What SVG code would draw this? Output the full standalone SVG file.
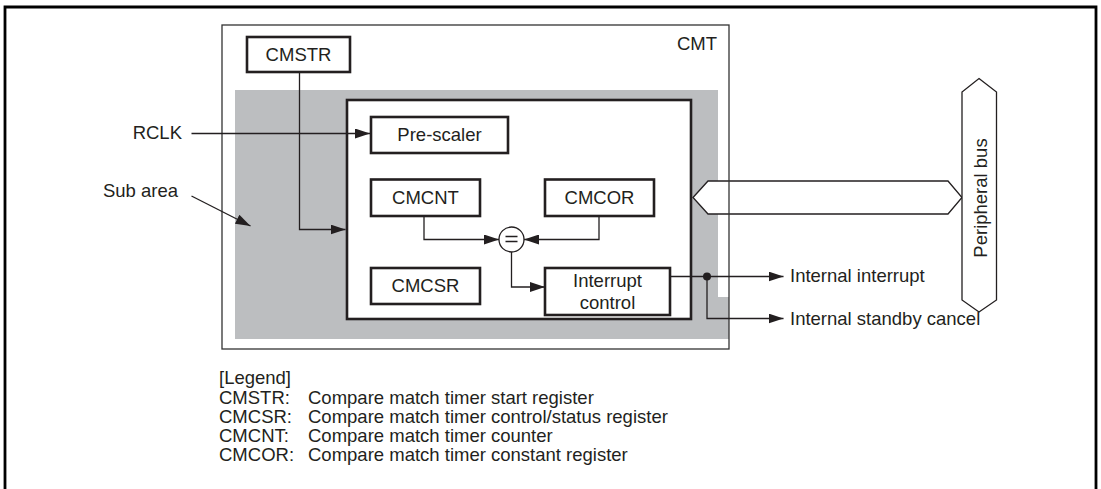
<svg xmlns="http://www.w3.org/2000/svg" width="1101" height="489" viewBox="0 0 1101 489">
<defs>
<style>
text{font-family:"Liberation Sans",Arial,sans-serif;font-size:18.5px;fill:#231f20}
.c{text-anchor:middle}
.box{fill:#fff;stroke:#231f20;stroke-width:2.6}
.thin{fill:none;stroke:#231f20;stroke-width:1.3}
</style>
<marker id="ah" viewBox="0 0 15 10" refX="15" refY="5" markerWidth="15" markerHeight="10" markerUnits="userSpaceOnUse" orient="auto">
<path d="M0,0 L15,5 L0,10 Z" fill="#231f20"/>
</marker>
</defs>
<rect width="1101" height="489" fill="#fff"/>
<path d="M5,492 V7 H1096 V492" fill="none" stroke="#000" stroke-width="2.8"/>

<g id="subarea">
<polygon points="235,90 718,90 718,297 729,297 729,339 235,339" fill="#bcbec0"/>
</g>

<g id="peripheral-bus">
<polygon points="693,197.5 708,181 948,181 962,197.5 948,214 708,214" fill="#fff" stroke="#231f20" stroke-width="1.3"/>
<polygon points="979,78.5 996.5,92 996.5,300 979,312 962,300 962,92" fill="#fff" stroke="#231f20" stroke-width="1.3"/>
<text transform="translate(987,198) rotate(-90)" class="c">Peripheral bus</text>
</g>

<g id="cmt">
<rect x="222" y="25" width="507" height="324" fill="none" stroke="#333" stroke-width="1.3"/>
<text x="717" y="50" text-anchor="end">CMT</text>
</g>

<g id="core">
<rect x="347" y="100" width="344" height="219" class="box"/>
</g>

<g id="cmstr">
<rect x="247" y="37" width="103" height="35" class="box"/>
<text x="298.5" y="60.5" class="c">CMSTR</text>
</g>
<g id="prescaler">
<rect x="371" y="117" width="137" height="36" class="box"/>
<text x="439.5" y="141" class="c">Pre-scaler</text>
</g>
<g id="cmcnt">
<rect x="371" y="179.5" width="109" height="36.5" class="box"/>
<text x="425.5" y="204" class="c">CMCNT</text>
</g>
<g id="cmcor">
<rect x="545" y="179.5" width="109" height="36.5" class="box"/>
<text x="599.5" y="204" class="c">CMCOR</text>
</g>
<g id="cmcsr">
<rect x="371" y="268" width="109" height="36" class="box"/>
<text x="425.5" y="292" class="c">CMCSR</text>
</g>
<g id="interrupt-control">
<rect x="545" y="268" width="125" height="47" class="box"/>
<text x="607.5" y="287" class="c">Interrupt</text>
<text x="607.5" y="308.5" class="c">control</text>
</g>
<g id="comparator">
<circle cx="511.5" cy="239.5" r="12.5" fill="#fff" stroke="#231f20" stroke-width="1.3"/>
<path d="M505.5,236.5 H517.5 M505.5,241.5 H517.5" stroke="#231f20" stroke-width="1.3"/>
</g>

<g id="labels">
<text x="182" y="139" text-anchor="end">RCLK</text>
<text x="178" y="197" text-anchor="end">Sub area</text>
<text x="790" y="282">Internal interrupt</text>
<text x="790" y="325">Internal standby cancel</text>
</g>

<g id="connectors" class="thin">
<path class="thin" d="M191.5,133.5 H370" marker-end="url(#ah)"/>
<path class="thin" d="M299.5,72 V229.5 H345.5" marker-end="url(#ah)"/>
<path class="thin" d="M191.5,196 L250.5,226" marker-end="url(#ah)"/>
<path class="thin" d="M424,216 V239.5 H499" marker-end="url(#ah)"/>
<path class="thin" d="M599,216 V239.5 H524" marker-end="url(#ah)"/>
<path class="thin" d="M511.5,252 V287 H545" marker-end="url(#ah)"/>
<path class="thin" d="M670,276.5 H783.5" marker-end="url(#ah)"/>
<path class="thin" d="M707,276.5 V318.5 H783.5" marker-end="url(#ah)"/>
<circle cx="707" cy="276.5" r="4" fill="#231f20" stroke="none"/>
</g>

<g id="legend">
<text x="219" y="383.5">[Legend]</text>
<text x="219" y="404">CMSTR:</text><text x="308" y="404">Compare match timer start register</text>
<text x="219" y="423">CMCSR:</text><text x="308" y="423">Compare match timer control/status register</text>
<text x="219" y="442">CMCNT:</text><text x="308" y="442">Compare match timer counter</text>
<text x="219" y="461">CMCOR:</text><text x="308" y="461">Compare match timer constant register</text>
</g>
</svg>
